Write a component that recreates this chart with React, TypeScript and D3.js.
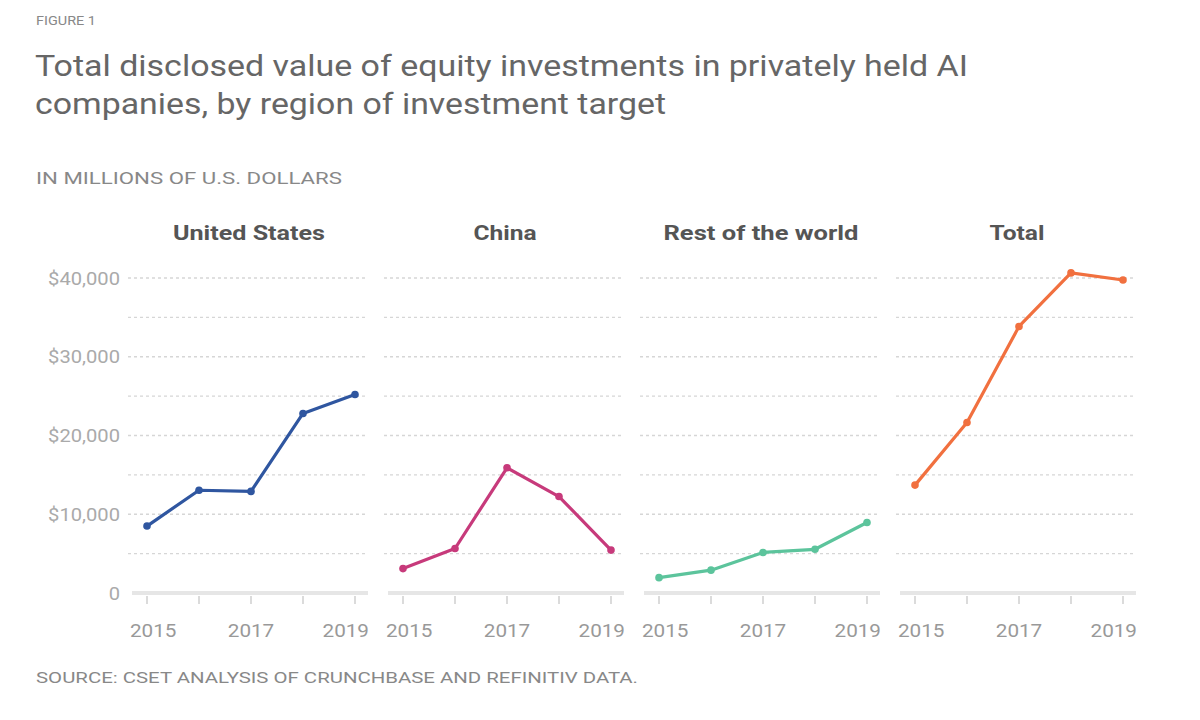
import React from "react";
import * as d3 from "d3";

const years = [2015, 2016, 2017, 2018, 2019];
const tickLabelYears = [2015, 2017, 2019];
const panelNames = ["United States", "China", "Rest of the world", "Total"];
const usValues = [8500, 13050, 12900, 22800, 25200];
const chinaValues = [3100, 5650, 15900, 12250, 5450];
const restValues = [1950, 2900, 5150, 5550, 8950];
const totalValues = [13700, 21650, 33850, 40650, 39750];
const panelColors = ["#2f56a0", "#c73a7b", "#5cc49c", "#f1703f"];
const yTicks = [0, 10000, 20000, 30000, 40000];
const gridValues = [5000, 10000, 15000, 20000, 25000, 30000, 35000, 40000];

const series = [usValues, chinaValues, restValues, totalValues];
const panelTitleWidths = [152, 63, 195, 55];

const FONT = "Roboto, 'Noto Sans', sans-serif";

function SText(props: { x: number; y: number; sx: number; anchor?: string; size: number; fill: string; weight?: number; children: React.ReactNode }) {
  const { x, y, sx, anchor = "start", size, fill, weight = 400, children } = props;
  return (
    <text transform={`translate(${x},${y}) scale(${sx},1)`} x={0} y={0} textAnchor={anchor} fontSize={size} fill={fill} fontWeight={weight}>
      {children}
    </text>
  );
}

export default function App() {
  const W = 1200;
  const H = 720;
  const y = d3.scaleLinear().domain([0, 40000]).range([593, 278]);
  const panelX = d3.scaleBand<number>().domain([0, 1, 2, 3]).range([128, 128 + 256 * 4]).paddingInner(0);
  const fmt = (v: number) => (v === 0 ? "0" : "$" + d3.format(",")(v));
  const line = d3.line<number>();

  return (
    <svg width={W} height={H} style={{ position: "absolute", left: 0, top: 0, background: "#fff" }} fontFamily={FONT}>
      <text x={36} y={25} fontSize={13} fill="#888" textLength={60} lengthAdjust="spacingAndGlyphs">FIGURE 1</text>
      <text x={35} y={76} fontSize={30} fill="#666" textLength={933} lengthAdjust="spacingAndGlyphs">
        Total disclosed value of equity investments in privately held AI
      </text>
      <text x={35} y={114} fontSize={30} fill="#666" textLength={631} lengthAdjust="spacingAndGlyphs">
        companies, by region of investment target
      </text>
      <text x={36} y={184} fontSize={16.5} fill="#888" textLength={306} lengthAdjust="spacingAndGlyphs">
        IN MILLIONS OF U.S. DOLLARS
      </text>

      {yTicks.map((t) => (
        <SText key={t} x={120} y={y(t) + 6.5} sx={1.12} anchor="end" size={18} fill="#aaa">
          {fmt(t)}
        </SText>
      ))}

      {panelNames.map((name, i) => {
        const left = panelX(i) as number;
        const x = d3.scalePoint<number>().domain(years).range([left + 19, left + 227]);
        const vals = series[i];
        const pts: [number, number][] = years.map((yr, k) => [x(yr) as number, y(vals[k])]);
        const axL = left + 4;
        const axR = left + 240;
        return (
          <g key={name}>
            <text x={left + 121} y={240} textAnchor="middle" fontSize={20} fontWeight={700} fill="#555" textLength={panelTitleWidths[i]} lengthAdjust="spacingAndGlyphs">
              {name}
            </text>
            {gridValues.map((g) => (
              <line key={g} x1={left} x2={left + 240} y1={y(g)} y2={y(g)} stroke="#d6d6d6" strokeWidth={1.3} strokeDasharray="3,3" />
            ))}
            <line x1={axL} x2={axR} y1={y(0)} y2={y(0)} stroke="#e6e6e6" strokeWidth={4} />
            {years.map((yr) => (
              <line key={yr} x1={x(yr) as number} x2={x(yr) as number} y1={596} y2={604} stroke="#cfcfcf" strokeWidth={1.5} />
            ))}
            {tickLabelYears.map((yr, k) => {
              const anchor = k === 0 ? "start" : k === tickLabelYears.length - 1 ? "end" : "middle";
              const tx = k === 0 ? axL - 2 : k === tickLabelYears.length - 1 ? axR + 1 : (x(yr) as number);
              return (
                <SText key={yr} x={tx} y={637} sx={1.15} anchor={anchor} size={18} fill="#999">
                  {yr}
                </SText>
              );
            })}
            <path d={line(pts) || ""} fill="none" stroke={panelColors[i]} strokeWidth={3.2} strokeLinejoin="round" />
            {pts.map((p, k) => (
              <circle key={k} cx={p[0]} cy={p[1]} r={3.8} fill={panelColors[i]} />
            ))}
          </g>
        );
      })}

      <text x={36} y={683} fontSize={15.5} fill="#888" textLength={602} lengthAdjust="spacingAndGlyphs">
        SOURCE: CSET ANALYSIS OF CRUNCHBASE AND REFINITIV DATA.
      </text>
    </svg>
  );
}
